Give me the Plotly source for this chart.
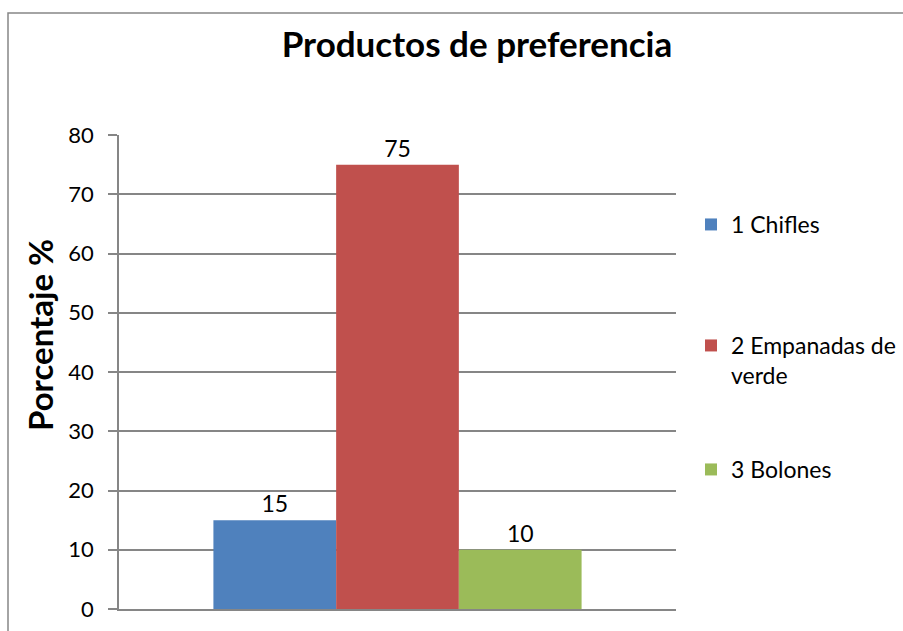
import plotly.graph_objects as go

# Survey results: preferred products (percent of respondents)
category = ["Productos"]
products = ["1 Chifles", "2 Empanadas de<br>verde", "3 Bolones"]
percentages = [15, 75, 10]
colors = ["#4F81BD", "#C0504D", "#9BBB59"]

y_ticks = [0, 10, 20, 30, 40, 50, 60, 70, 80]

FONT = "Lato, 'Open Sans', sans-serif"
GRID = "#868686"
W, H = 903, 631

# each legend entry gets its own legend box so entries can be spread evenly
legend_ids = ["legend", "legend2", "legend3"]
legend_tops = [203, 324, 448]

fig = go.Figure()
for name, val, col, lg in zip(products, percentages, colors, legend_ids):
    fig.add_trace(go.Bar(
        x=category, y=[val], name=name, legend=lg, showlegend=True,
        marker=dict(color=col, line=dict(width=0)),
        text=[str(val)], textposition="outside", cliponaxis=False,
        textfont=dict(family=FONT, size=23, color="#000000"),
    ))

legend_style = dict(x=691 / W, xanchor="left", yanchor="top", valign="top",
                    font=dict(family=FONT, size=23, color="#000000"),
                    bgcolor="rgba(0,0,0,0)", borderwidth=0)

fig.update_layout(
    width=W, height=H,
    margin=dict(l=0, r=0, t=0, b=0, autoexpand=False),
    paper_bgcolor="white", plot_bgcolor="white",
    showlegend=True,
    barmode="group", bargap=0.339, bargroupgap=0,
    font=dict(family=FONT, color="#000000"),
    title=dict(text="<b>Productos de preferencia</b>", x=477 / W, xanchor="center",
               y=1 - 45 / H, yanchor="middle", yref="container",
               font=dict(family=FONT, size=35, color="#000000")),
    xaxis=dict(domain=[119 / W, 676 / W], showticklabels=False, ticks="",
               showline=True, linecolor=GRID, linewidth=1.5, showgrid=False,
               zeroline=False, fixedrange=True),
    yaxis=dict(domain=[1 - 609 / H, 1 - 135 / H], range=[0, 80],
               tickmode="array", tickvals=y_ticks,
               ticks="outside", ticklen=9, tickcolor=GRID, tickwidth=1.5,
               ticklabelstandoff=10,
               showline=True, linecolor=GRID, linewidth=1.5,
               showgrid=True, gridcolor=GRID, gridwidth=1.5, zeroline=False,
               tickfont=dict(family=FONT, size=22, color="#000000")),
    legend=dict(y=1 - legend_tops[0] / H, **legend_style),
    legend2=dict(y=1 - legend_tops[1] / H, **legend_style),
    legend3=dict(y=1 - legend_tops[2] / H, **legend_style),
    annotations=[dict(text="<b>Porcentaje %</b>", textangle=-90,
                      xref="paper", yref="paper", x=40 / W, y=1 - 335 / H,
                      xanchor="center", yanchor="middle", showarrow=False,
                      font=dict(family=FONT, size=33, color="#000000"))],
    shapes=[dict(type="rect", xref="paper", yref="paper",
                 x0=8 / W, x1=1.05, y0=-0.05, y1=1 - 13 / H,
                 line=dict(color="#868686", width=1.5), fillcolor="rgba(0,0,0,0)")],
)

fig.write_html("out.html")
